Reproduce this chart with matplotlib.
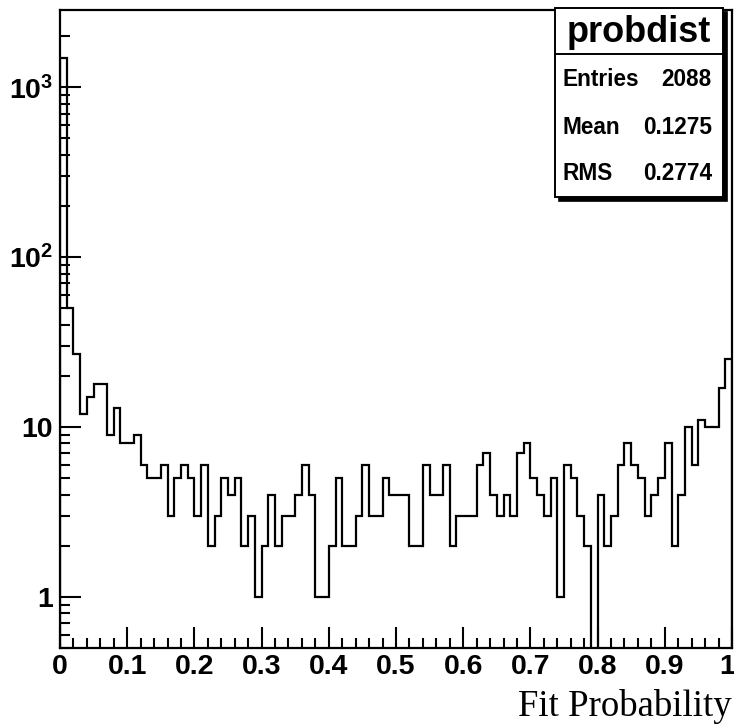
import numpy as np
import matplotlib
matplotlib.use("Agg")
import matplotlib.pyplot as plt
from matplotlib.ticker import LogLocator, FuncFormatter, MultipleLocator, NullFormatter
from matplotlib.patches import Rectangle
from matplotlib.lines import Line2D
from matplotlib.transforms import offset_copy

# ---- data ----
x_range = (0.0, 1.0)
n_bins = 100
counts = [1493, 50, 27, 12, 15, 18, 18, 9, 13, 8,
          8, 9, 6, 5, 5, 6, 3, 5, 6, 5,
          3, 6, 2, 3, 5, 4, 5, 2, 3, 1,
          2, 4, 2, 3, 3, 4, 6, 4, 1, 1,
          2, 5, 2, 2, 3, 6, 3, 3, 5, 4,
          4, 4, 2, 2, 6, 4, 4, 6, 2, 3,
          3, 3, 6, 7, 4, 3, 4, 3, 7, 8,
          5, 4, 3, 5, 1, 6, 5, 3, 2, 0,
          4, 2, 3, 6, 8, 6, 5, 3, 4, 5,
          8, 2, 4, 10, 6, 11, 10, 10, 17, 25]
hist_name = "probdist"
stat_names = ["Entries", "Mean", "RMS"]
stat_values = ["2088", "0.1275", "0.2774"]
x_title = "Fit Probability"
x_ticks = [0, 0.1, 0.2, 0.3, 0.4, 0.5, 0.6, 0.7, 0.8, 0.9, 1.0]
x_tick_labels = ["0", "0.1", "0.2", "0.3", "0.4", "0.5", "0.6", "0.7", "0.8", "0.9", "1"]
y_limits = (0.5, 2850)

# ---- style ----
plt.rcParams["font.family"] = ["Liberation Sans", "DejaVu Sans"]
plt.rcParams["mathtext.fontset"] = "custom"
plt.rcParams["mathtext.bf"] = "Liberation Sans:bold"
plt.rcParams["mathtext.rm"] = "Liberation Sans:bold"

W, H = 734, 728
fig = plt.figure(figsize=(W / 100, H / 100), dpi=100)
fig.patch.set_facecolor("white")

def fx(x):
    return x / W

def fy(y):
    return 1 - y / H

ax_l, ax_r, ax_t, ax_b = 60, 732, 10, 648
ax = fig.add_axes([fx(ax_l), fy(ax_b), (ax_r - ax_l) / W, (ax_b - ax_t) / H])

edges = np.linspace(x_range[0], x_range[1], n_bins + 1)
vals = np.array(counts, dtype=float)
plot_vals = np.where(vals > 0, vals, 1e-3)
ax.stairs(plot_vals, edges, baseline=1e-3, color="black", lw=1.6, fill=False)

ax.set_yscale("log")
ax.set_xlim(*x_range)
ax.set_ylim(*y_limits)

for s in ax.spines.values():
    s.set_linewidth(1.6)
    s.set_color("black")

ax.set_xticks(x_ticks)
ax.xaxis.set_minor_locator(MultipleLocator(0.02))
ax.set_xticklabels([])
# x tick labels drawn as text so the last one stays inside the canvas
for xv, lab in zip(x_ticks, x_tick_labels):
    is_last = xv == x_ticks[-1]
    tr = offset_copy(ax.get_xaxis_transform(), fig=fig, x=(3 if is_last else 0), y=-6, units="dots")
    ax.text(xv, 0, lab, transform=tr, ha=("right" if is_last else "center"), va="top",
            fontsize=20.5, fontweight="bold", clip_on=False)

ax.yaxis.set_major_locator(LogLocator(base=10, numticks=10))
ax.yaxis.set_minor_locator(LogLocator(base=10, subs=np.arange(2, 10), numticks=20))
ax.yaxis.set_minor_formatter(NullFormatter())

def yfmt(v, pos):
    if abs(v - 1) < 1e-9:
        return "1"
    if abs(v - 10) < 1e-9:
        return "10"
    e = int(round(np.log10(v)))
    return r"$\mathbf{10^{%d}}$" % e

ax.yaxis.set_major_formatter(FuncFormatter(yfmt))

ax.tick_params(which="both", direction="in", top=False, right=False, color="black")
ax.tick_params(which="major", length=15, width=1.5, labelsize=20.5, pad=4)
ax.tick_params(which="minor", length=7.2, width=1.5)
ax.tick_params(axis="y", which="major", pad=5)
for lab in ax.get_yticklabels():
    lab.set_fontweight("bold")

fig.text(fx(732), fy(716), x_title, ha="right", va="baseline",
         family=["Liberation Serif", "DejaVu Serif"], fontsize=26.5)

# ---- stats box ----
bx_l, bx_r, bx_t, bx_b = 555, 723, 8, 197
shadow = 4
fig.patches.append(Rectangle((fx(bx_l + shadow), fy(bx_b + shadow)),
                             (bx_r - bx_l) / W, (bx_b - bx_t) / H,
                             transform=fig.transFigure, facecolor="black",
                             edgecolor="black", lw=1.2, zorder=10))
fig.patches.append(Rectangle((fx(bx_l), fy(bx_b)),
                             (bx_r - bx_l) / W, (bx_b - bx_t) / H,
                             transform=fig.transFigure, facecolor="white",
                             edgecolor="black", lw=1.4, zorder=11))
fig.lines.append(Line2D([fx(bx_l), fx(bx_r)], [fy(54), fy(54)],
                        transform=fig.transFigure, color="black", lw=1.4, zorder=12))
fig.text(fx((bx_l + bx_r) / 2), fy(32), hist_name, ha="center", va="center",
         fontsize=26, fontweight="bold", zorder=13)
row_y = [80, 127, 173]
for name, val, yy in zip(stat_names, stat_values, row_y):
    fig.text(fx(562), fy(yy), name, ha="left", va="center", fontsize=16.3,
             fontweight="bold", zorder=13)
    fig.text(fx(712), fy(yy), val, ha="right", va="center", fontsize=16.3,
             fontweight="bold", zorder=13)

fig.savefig("out.png", dpi=100)
